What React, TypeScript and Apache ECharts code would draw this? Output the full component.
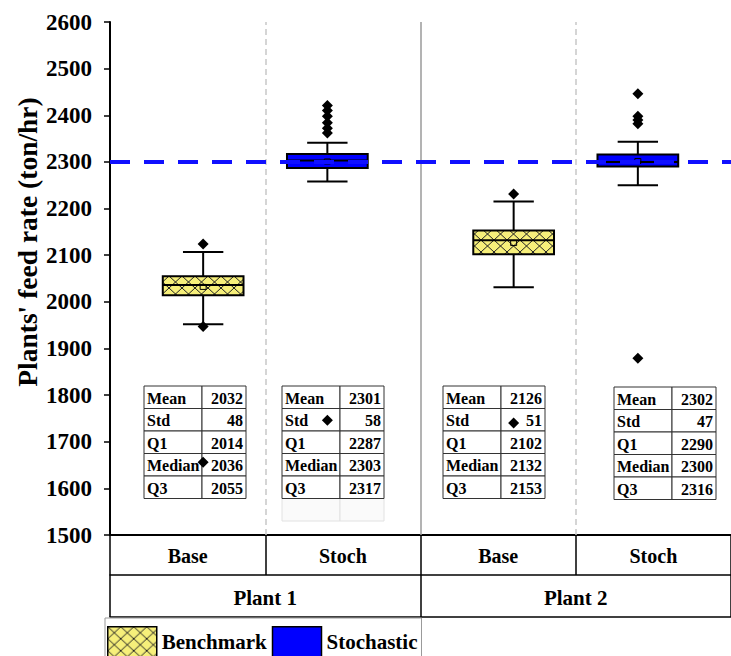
import React, { useEffect, useRef } from 'react';
import * as echarts from 'echarts';

// ---------- data ----------
const subCategories = ['Base', 'Stoch', 'Base', 'Stoch'];
const plants = ['Plant 1', 'Plant 2'];
const seriesNames = ['Benchmark', 'Stochastic'];
const yName = "Plants' feed rate (ton/hr)";

// whiskers [low, high] per plant
const benchmarkWhiskers = [
  [1952, 2107],
  [2031, 2215],
];
const stochasticWhiskers = [
  [2258, 2341],
  [2250, 2343],
];

// summary table values per plant: Mean, Std, Q1, Median, Q3
const statLabels = ['Mean', 'Std', 'Q1', 'Median', 'Q3'];
const benchmarkStats = [
  [2032, 48, 2014, 2036, 2055],
  [2126, 51, 2102, 2132, 2153],
];
const stochasticStats = [
  [2301, 58, 2287, 2303, 2317],
  [2302, 47, 2290, 2300, 2316],
];

const benchmarkOutliers = [
  [2124, 1947, 1656],
  [2231, 1740],
];
const stochasticOutliers = [
  [2421, 2410, 2398, 2384, 2372, 2362, 1746],
  [2446, 2398, 2390, 2382, 1879],
];

const targetRate = 2300;

// ---------- layout ----------
const FONT = '"Liberation Serif", "Times New Roman", serif';
const GRID_LEFT = 110;
const GRID_TOP = 22;
const GRID_BOTTOM = 121;
const GRID_WIDTH = 624;
const BOX_SHIFT = 0.1; // offset from category centre (in category units)
const BOX_WIDTH = 0.52;
const CAP_WIDTH = 0.26;
// tables: [left, top] in pixels, order: P1 Base, P1 Stoch, P2 Base, P2 Stoch
const tablePos = [
  [144, 386],
  [282, 386],
  [443, 386],
  [614, 387],
];
const COL1 = 58;
const COL2 = 44;
const ROW_H = 22.5;

function makeHatch() {
  const c = document.createElement('canvas');
  c.width = 13;
  c.height = 12;
  const ctx = c.getContext('2d')!;
  ctx.fillStyle = '#f6ef7a';
  ctx.fillRect(0, 0, 13, 12);
  ctx.strokeStyle = '#222';
  ctx.lineWidth = 1;
  ctx.beginPath();
  ctx.moveTo(0, 0);
  ctx.lineTo(13, 12);
  ctx.moveTo(13, 0);
  ctx.lineTo(0, 12);
  ctx.stroke();
  return { image: c, repeat: 'repeat', imageWidth: 13, imageHeight: 12 } as any;
}

function boxX(plant: number, stochastic: boolean) {
  const centre = plant * 2 + (stochastic ? 1.5 : 0.5);
  return stochastic ? centre - BOX_SHIFT : centre + BOX_SHIFT;
}

function boxData(whiskers: number[][], stats: number[][], stochastic: boolean) {
  return whiskers.map((w, p) => [
    boxX(p, stochastic),
    w[0],
    stats[p][2],
    stats[p][3],
    stats[p][4],
    w[1],
    stats[p][0],
  ]);
}

function outlierData(outs: number[][], stochastic: boolean) {
  const res: number[][] = [];
  outs.forEach((list, p) => list.forEach((v) => res.push([boxX(p, stochastic), v])));
  return res;
}

function makeRender(fill: any) {
  return (params: any, api: any) => {
    const x = api.value(0);
    const low = api.coord([x, api.value(1)]);
    const q1 = api.coord([x, api.value(2)]);
    const med = api.coord([x, api.value(3)]);
    const q3 = api.coord([x, api.value(4)]);
    const high = api.coord([x, api.value(5)]);
    const mean = api.coord([x, api.value(6)]);
    const bw = api.size([BOX_WIDTH, 0])[0];
    const cw = api.size([CAP_WIDTH, 0])[0];
    const cx = low[0];
    const st = { stroke: '#000', lineWidth: 2 };
    return {
      type: 'group',
      children: [
        { type: 'line', shape: { x1: cx, y1: q3[1], x2: cx, y2: high[1] }, style: st },
        { type: 'line', shape: { x1: cx - cw / 2, y1: high[1], x2: cx + cw / 2, y2: high[1] }, style: st },
        { type: 'line', shape: { x1: cx, y1: q1[1], x2: cx, y2: low[1] }, style: st },
        { type: 'line', shape: { x1: cx - cw / 2, y1: low[1], x2: cx + cw / 2, y2: low[1] }, style: st },
        {
          type: 'rect',
          shape: { x: cx - bw / 2, y: q3[1], width: bw, height: q1[1] - q3[1] },
          style: { fill, stroke: '#000', lineWidth: 2 },
        },
        { type: 'line', shape: { x1: cx - bw / 2, y1: med[1], x2: cx + bw / 2, y2: med[1] }, style: st },
        {
          type: 'rect',
          shape: { x: cx - 3, y: mean[1] - 2.5, width: 6, height: 5 },
          style: { fill: 'none', stroke: '#000', lineWidth: 1 },
        },
      ],
    };
  };
}

function buildTables() {
  const stats = [benchmarkStats[0], stochasticStats[0], benchmarkStats[1], stochasticStats[1]];
  const children: any[] = [];
  stats.forEach((vals, t) => {
    const [left, top] = tablePos[t];
    const cells: any[] = [];
    if (t === 1) {
      cells.push({
        type: 'rect',
        shape: { x: 0, y: 5 * ROW_H, width: COL1, height: ROW_H },
        style: { fill: '#fafafa', stroke: '#e2e2e2', lineWidth: 1 },
      });
      cells.push({
        type: 'rect',
        shape: { x: COL1, y: 5 * ROW_H, width: COL2, height: ROW_H },
        style: { fill: '#fafafa', stroke: '#e2e2e2', lineWidth: 1 },
      });
    }
    statLabels.forEach((lab, r) => {
      cells.push({
        type: 'rect',
        shape: { x: 0, y: r * ROW_H, width: COL1, height: ROW_H },
        style: { fill: '#fff', stroke: '#333', lineWidth: 1 },
      });
      cells.push({
        type: 'rect',
        shape: { x: COL1, y: r * ROW_H, width: COL2, height: ROW_H },
        style: { fill: '#fff', stroke: '#333', lineWidth: 1 },
      });
      cells.push({
        type: 'text',
        x: 3,
        y: r * ROW_H + ROW_H / 2 + 1,
        style: {
          text: lab,
          font: `bold 16px ${FONT}`,
          fill: '#000',
          align: 'left',
          verticalAlign: 'middle',
        },
      });
      cells.push({
        type: 'text',
        x: COL1 + COL2 - 3,
        y: r * ROW_H + ROW_H / 2 + 1,
        style: {
          text: String(vals[r]),
          font: `bold 16px ${FONT}`,
          fill: '#000',
          align: 'right',
          verticalAlign: 'middle',
        },
      });
    });
    children.push({ type: 'group', x: left, y: top, z: 1, children: cells });
  });
  return children;
}

export default function App() {
  const ref = useRef<HTMLDivElement>(null);
  useEffect(() => {
    document.body.style.margin = '0';
    const chart = echarts.init(ref.current!, null, { renderer: 'svg' });
    const hatch = makeHatch();
    const blue = '#0000ff';
    const option: any = {
      animation: false,
      backgroundColor: '#fff',
      grid: { left: GRID_LEFT, top: GRID_TOP, bottom: GRID_BOTTOM, width: GRID_WIDTH, containLabel: false },
      xAxis: [
        { type: 'value', min: 0, max: 4, show: false, position: 'bottom' },
        {
          type: 'category',
          data: subCategories,
          position: 'bottom',
          offset: 0,
          boundaryGap: true,
          axisLine: { show: true, onZero: false, lineStyle: { color: '#000', width: 2 } },
          axisTick: { show: true, interval: 0, length: 40, lineStyle: { color: '#000', width: 1.5 } },
          axisLabel: { interval: 0, margin: 11, color: '#000', fontFamily: FONT, fontWeight: 'bold', fontSize: 20 },
          splitLine: { show: false },
        },
        {
          type: 'category',
          data: plants,
          position: 'bottom',
          offset: 40,
          boundaryGap: true,
          axisLine: { show: true, onZero: false, lineStyle: { color: '#000', width: 1.5 } },
          axisTick: { show: true, interval: 0, length: 42, lineStyle: { color: '#000', width: 1.5 } },
          axisLabel: { interval: 0, margin: 12, color: '#000', fontFamily: FONT, fontWeight: 'bold', fontSize: 21 },
          splitLine: { show: false },
        },
        {
          type: 'category',
          data: plants,
          position: 'bottom',
          offset: 82,
          axisLine: { show: true, onZero: false, lineStyle: { color: '#000', width: 1.5 } },
          axisTick: { show: false },
          axisLabel: { show: false },
          splitLine: { show: false },
        },
      ],
      yAxis: {
        type: 'value',
        min: 1500,
        max: 2600,
        interval: 100,
        axisLine: { show: true, lineStyle: { color: '#000', width: 2 } },
        axisTick: { show: true, length: 6, lineStyle: { color: '#000', width: 1.5 } },
        axisLabel: {
          margin: 18,
          color: '#000',
          fontFamily: FONT,
          fontWeight: 'bold',
          fontSize: 23,
          formatter: (v: number) => String(v),
        },
        splitLine: { show: false },
      },
      legend: {
        left: 105,
        top: 618,
        padding: [8, 4, 2, 2],
        itemWidth: 49,
        itemHeight: 30,
        itemGap: 5,
        borderColor: '#999',
        borderWidth: 1,
        backgroundColor: '#fff',
        selectedMode: false,
        textStyle: { color: '#000', fontFamily: FONT, fontWeight: 'bold', fontSize: 21 },
        data: [
          { name: seriesNames[0], icon: 'rect', itemStyle: { color: hatch, borderColor: '#000', borderWidth: 1.5 } },
          { name: seriesNames[1], icon: 'rect', itemStyle: { color: blue, borderColor: '#000', borderWidth: 1.5 } },
        ],
      },
      graphic: [
        {
          type: 'text',
          x: 27,
          y: 242,
          rotation: Math.PI / 2,
          style: {
            text: yName,
            font: `bold 27.5px ${FONT}`,
            fill: '#000',
            align: 'center',
            verticalAlign: 'middle',
          },
        },
        ...buildTables(),
      ],
      series: [
        {
          name: 'grid lines',
          type: 'scatter',
          data: [],
          z: 1,
          silent: true,
          markLine: {
            silent: true,
            symbol: ['none', 'none'],
            label: { show: false },
            data: [
              { xAxis: 1, lineStyle: { color: '#c8c8c8', type: [6, 4], width: 1.5 } },
              { xAxis: 2, lineStyle: { color: '#9a9a9a', type: 'solid', width: 1.5 } },
              { xAxis: 3, lineStyle: { color: '#c8c8c8', type: [6, 4], width: 1.5 } },
            ],
          },
        },
        {
          name: seriesNames[0],
          type: 'custom',
          z: 3,
          itemStyle: { color: '#f6ef7a' },
          encode: { x: 0, y: [1, 2, 3, 4, 5, 6] },
          renderItem: makeRender(hatch),
          data: boxData(benchmarkWhiskers, benchmarkStats, false),
        },
        {
          name: seriesNames[1],
          type: 'custom',
          z: 3,
          itemStyle: { color: blue },
          encode: { x: 0, y: [1, 2, 3, 4, 5, 6] },
          renderItem: makeRender(blue),
          data: boxData(stochasticWhiskers, stochasticStats, true),
        },
        {
          name: 'Benchmark outliers',
          type: 'scatter',
          z: 6,
          symbol: 'diamond',
          symbolSize: 11,
          itemStyle: { color: '#000', opacity: 1 },
          data: outlierData(benchmarkOutliers, false),
        },
        {
          name: 'Stochastic outliers',
          type: 'scatter',
          z: 6,
          symbol: 'diamond',
          symbolSize: 11,
          itemStyle: { color: '#000', opacity: 1 },
          data: outlierData(stochasticOutliers, true),
          markLine: {
            silent: true,
            symbol: ['none', 'none'],
            label: { show: false },
            data: [{ yAxis: targetRate }],
            lineStyle: { color: '#1010ff', type: [20, 14], width: 4 },
          },
        },
      ],
    };
    chart.setOption(option);
    return () => chart.dispose();
  }, []);
  return <div ref={ref} style={{ width: 731, height: 656 }} />;
}
